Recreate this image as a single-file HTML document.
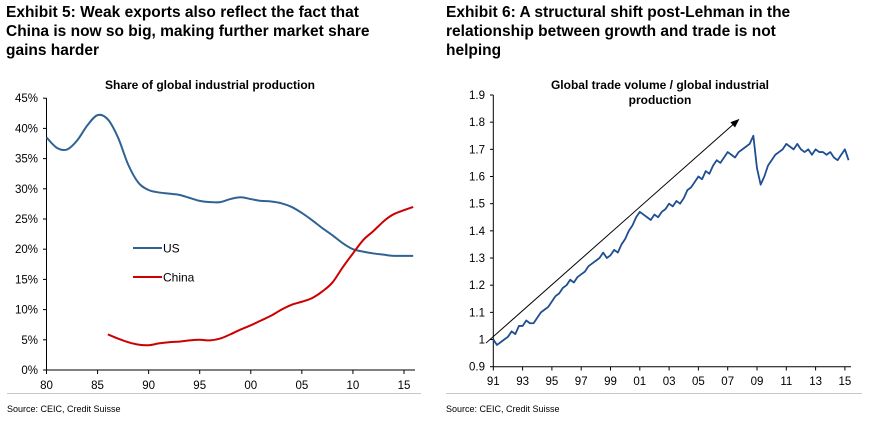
<!DOCTYPE html>
<html><head><meta charset="utf-8"><style>
body{margin:0;background:#fff;width:869px;height:423px;overflow:hidden;font-family:"Liberation Sans",Arial,sans-serif}
svg{position:absolute;left:0;top:0}
</style></head><body>
<svg id="s" width="869" height="423" font-family="Liberation Sans, Arial, sans-serif">
<g font-weight="bold" font-size="15.5" fill="#000">
<text x="6" y="17">Exhibit 5: Weak exports also reflect the fact that</text>
<text x="6" y="36">China is now so big, making further market share</text>
<text x="6" y="55">gains harder</text></g>
<g font-weight="bold" font-size="15.5" fill="#000">
<text x="446" y="17">Exhibit 6: A structural shift post-Lehman in the</text>
<text x="446" y="36">relationship between growth and trade is not</text>
<text x="446" y="55">helping</text></g>
<text x="210" y="89" text-anchor="middle" font-weight="bold" font-size="12">Share of global industrial production</text>
<text x="660" y="89" text-anchor="middle" font-weight="bold" font-size="12">Global trade volume / global industrial</text>
<text x="660" y="104" text-anchor="middle" font-weight="bold" font-size="12">production</text>
<line x1="7" y1="393.5" x2="421" y2="393.5" stroke="#c8c8c8"/>
<line x1="446" y1="393.5" x2="862" y2="393.5" stroke="#c8c8c8"/>
<text x="7" y="412" font-size="9">Source: CEIC, Credit Suisse</text>
<text x="446" y="412" font-size="9">Source: CEIC, Credit Suisse</text>
<g id="L"></g><g id="R"></g>
</svg>
<script>
const usYears=[1980,1981,1982,1983,1984,1985,1986,1987,1988,1989,1990,1991,1992,1993,1994,1995,1996,1997,1998,1999,2000,2001,2002,2003,2004,2005,2006,2007,2008,2009,2010,2011,2012,2013,2014,2015.9];
const usValues=[38.5,36.8,36.5,38,40.5,42.2,41.5,38.5,34,31,29.8,29.4,29.2,29,28.5,28,27.8,27.8,28.3,28.6,28.3,28,27.9,27.6,27,26,24.8,23.5,22.3,21,20,19.6,19.3,19.1,18.9,18.9];
const cnYears=[1986,1987,1988,1989,1990,1991,1992,1993,1994,1995,1996,1997,1998,1999,2000,2001,2002,2003,2004,2005,2006,2007,2008,2009,2010,2011,2012,2013,2014,2015.9];
const cnValues=[5.9,5.2,4.6,4.2,4.1,4.4,4.6,4.7,4.9,5.0,4.9,5.2,5.9,6.7,7.4,8.2,9.0,10.0,10.8,11.3,11.9,13.0,14.5,17.0,19.3,21.5,23,24.6,25.8,27.0];
const leftYTicks=[0,5,10,15,20,25,30,35,40,45];
const leftXTicks=[1980,1985,1990,1995,2000,2005,2010,2015];
const leftXLabels=["80","85","90","95","00","05","10","15"];
const ratioStart=1991, ratioStep=0.25;
const ratioValues=[1.00,0.98,0.99,1.00,1.01,1.03,1.02,1.05,1.05,1.07,1.06,1.06,1.08,1.10,1.11,1.12,1.14,1.16,1.17,1.19,1.20,1.22,1.21,1.23,1.24,1.25,1.27,1.28,1.29,1.30,1.32,1.30,1.31,1.33,1.32,1.35,1.37,1.40,1.42,1.45,1.47,1.46,1.45,1.44,1.46,1.45,1.47,1.48,1.50,1.49,1.51,1.50,1.52,1.55,1.56,1.58,1.60,1.59,1.62,1.61,1.64,1.66,1.65,1.67,1.69,1.68,1.67,1.69,1.70,1.71,1.72,1.75,1.63,1.57,1.60,1.64,1.66,1.68,1.69,1.70,1.72,1.71,1.70,1.72,1.70,1.69,1.70,1.68,1.70,1.69,1.69,1.68,1.69,1.67,1.66,1.68,1.70,1.66];
const rightYTicks=[0.9,1.0,1.1,1.2,1.3,1.4,1.5,1.6,1.7,1.8,1.9];
const rightYLabels=["0.9","1","1.1","1.2","1.3","1.4","1.5","1.6","1.7","1.8","1.9"];
const rightXTicks=[1991,1993,1995,1997,1999,2001,2003,2005,2007,2009,2011,2013,2015];
const rightXLabels=["91","93","95","97","99","01","03","05","07","09","11","13","15"];
const arrowX=[1990.5,2007.8], arrowY=[0.987,1.812];

const NS="http://www.w3.org/2000/svg";
function mk(p,t,a){const e=document.createElementNS(NS,t);for(const k in a)e.setAttribute(k,a[k]);p.appendChild(e);return e;}
const lx=y=>46.5+(y-1980)*10.214, ly=v=>370-v*6.04;
const rx=y=>493.3+(y-1991)*14.65, ry=v=>366.7-(v-0.9)*271.7;
function smooth(P){let d="M"+P[0][0]+","+P[0][1];for(let i=0;i<P.length-1;i++){const p0=P[i-1]||P[i],p1=P[i],p2=P[i+1],p3=P[i+2]||p2;d+=" C"+(p1[0]+(p2[0]-p0[0])/6)+","+(p1[1]+(p2[1]-p0[1])/6)+" "+(p2[0]-(p3[0]-p1[0])/6)+","+(p2[1]-(p3[1]-p1[1])/6)+" "+p2[0]+","+p2[1];}return d;}
const L=document.getElementById('L'), R=document.getElementById('R');
let a=mk(L,'line',{x1:46.5,y1:98,x2:46.5,y2:370,stroke:'#000'});


a=mk(L,'line',{x1:46.5,y1:370,x2:415,y2:370,stroke:'#000'});


leftYTicks.forEach(v=>{mk(L,'line',{x1:43,x2:46.5,y1:ly(v),y2:ly(v),stroke:'#000'});const t=mk(L,'text',{x:38,y:ly(v)+4,'text-anchor':'end','font-size':11.5});t.textContent=v+'%';

});
leftXTicks.forEach((v,i)=>{mk(L,'line',{x1:lx(v),x2:lx(v),y1:370,y2:374,stroke:'#000'});const t=mk(L,'text',{x:lx(v),y:389,'text-anchor':'middle','font-size':11.5});t.textContent=leftXLabels[i];

});
let p=mk(L,'path',{d:smooth(usYears.map((y,i)=>[lx(y),ly(usValues[i])])),fill:'none',stroke:'#2e6393','stroke-width':2});


p=mk(L,'path',{d:smooth(cnYears.map((y,i)=>[lx(y),ly(cnValues[i])])),fill:'none',stroke:'#cc0000','stroke-width':2});


[['US','#2e6393',248],['China','#cc0000',277]].forEach(([n,c,y])=>{const g=mk(L,'g',{});

mk(g,'line',{x1:133,x2:162,y1:y,y2:y,stroke:c,'stroke-width':2});const t=mk(g,'text',{x:163,y:y+4.5,'font-size':12});t.textContent=n;});
a=mk(R,'line',{x1:493.3,y1:95,x2:493.3,y2:366.7,stroke:'#000'});


a=mk(R,'line',{x1:493.3,y1:366.7,x2:851,y2:366.7,stroke:'#000'});


rightYTicks.forEach((v,i)=>{mk(R,'line',{x1:490,x2:493.3,y1:ry(v),y2:ry(v),stroke:'#000'});const t=mk(R,'text',{x:485,y:ry(v)+4,'text-anchor':'end','font-size':11.5});t.textContent=rightYLabels[i];

});
rightXTicks.forEach((v,i)=>{mk(R,'line',{x1:rx(v),x2:rx(v),y1:366.7,y2:370.5,stroke:'#000'});const t=mk(R,'text',{x:rx(v),y:385,'text-anchor':'middle','font-size':11.5});t.textContent=rightXLabels[i];

});
p=mk(R,'polyline',{points:ratioValues.map((v,i)=>rx(ratioStart+i*ratioStep)+','+ry(v)).join(' '),fill:'none',stroke:'#1f4e91','stroke-width':1.8,'stroke-linejoin':'round'});


const x1=rx(arrowX[0]),y1=ry(arrowY[0]),x2=rx(arrowX[1]),y2=ry(arrowY[1]);
const g=mk(R,'g',{});


mk(g,'line',{x1:x1,y1:y1,x2:x2-6,y2:y2+5.3,stroke:'#000','stroke-width':1});
const ang=Math.atan2(y2-y1,x2-x1),L8=9,w=3.5;
const bx=x2-L8*Math.cos(ang),by=y2-L8*Math.sin(ang);
mk(g,'polygon',{points:`${x2},${y2} ${bx+w*Math.sin(ang)},${by-w*Math.cos(ang)} ${bx-w*Math.sin(ang)},${by+w*Math.cos(ang)}`,fill:'#000'});
</script>
</body></html>
